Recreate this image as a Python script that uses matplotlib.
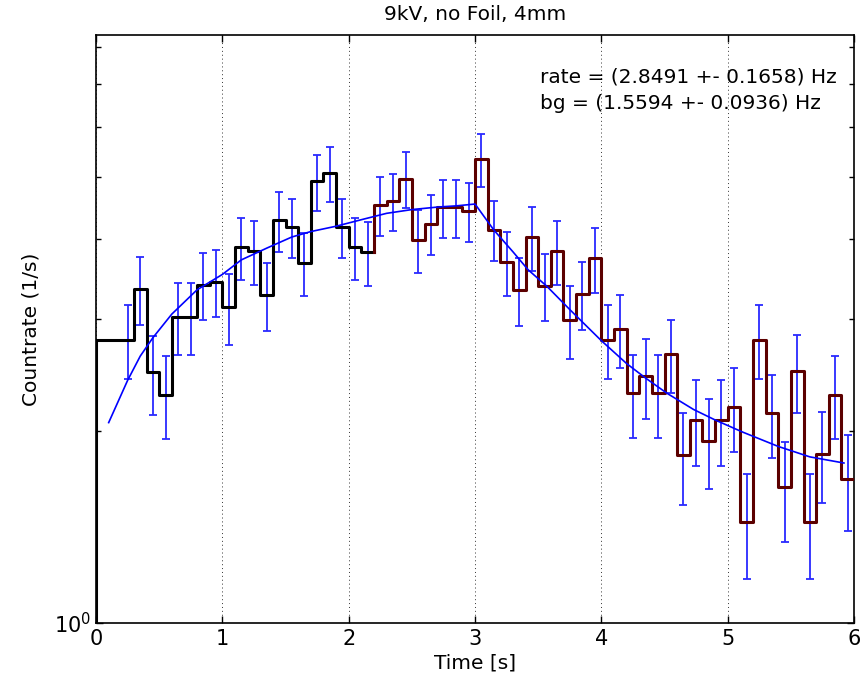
import numpy as np
import matplotlib
matplotlib.use('Agg')
import matplotlib.pyplot as plt
from matplotlib.ticker import LogLocator, NullFormatter

# count rate per 0.1 s bin, 0 .. 6 s
rates = [2.78, 2.78, 2.78, 3.34, 2.47, 2.28, 3.02, 3.02, 3.39, 3.43,
         3.13, 3.88, 3.83, 3.27, 4.28, 4.18, 3.67, 4.93, 5.08, 4.18,
         3.88, 3.82, 4.52, 4.59, 4.97, 3.99, 4.23, 4.49, 4.49, 4.43,
         5.34, 4.14, 3.68, 3.33, 4.03, 3.38, 3.83, 2.98, 3.28, 3.73,
         2.78, 2.89, 2.29, 2.44, 2.29, 2.64, 1.83, 2.08, 1.93, 2.08,
         2.18, 1.44, 2.78, 2.13, 1.63, 2.48, 1.44, 1.84, 2.28, 1.68]

# errors, first two bins have none
errs = [np.nan, np.nan, 0.37, 0.41, 0.35, 0.34, 0.39, 0.39, 0.41, 0.41,
        0.40, 0.43, 0.44, 0.40, 0.46, 0.45, 0.42, 0.50, 0.50, 0.45,
        0.43, 0.44, 0.48, 0.47, 0.50, 0.45, 0.46, 0.47, 0.47, 0.47,
        0.51, 0.45, 0.43, 0.41, 0.46, 0.41, 0.44, 0.39, 0.40, 0.435,
        0.37, 0.38, 0.34, 0.35, 0.34, 0.35, 0.30, 0.32, 0.31, 0.32,
        0.33, 0.27, 0.37, 0.32, 0.29, 0.35, 0.27, 0.30, 0.34, 0.29]

fit_t = [0.1, 0.25, 0.35, 0.45, 0.6, 0.8, 1.0, 1.15, 1.35, 1.55, 1.7, 1.9,
         2.1, 2.3, 2.5, 2.7, 2.85, 3.0, 3.15, 3.3, 3.42, 3.57, 3.75, 3.86,
         4.0, 4.2, 4.35, 4.52, 4.73, 4.9, 5.12, 5.4, 5.65, 5.92]
fit_rate = [2.06, 2.40, 2.62, 2.80, 3.05, 3.33, 3.52, 3.71, 3.87, 4.03, 4.11, 4.19,
            4.29, 4.39, 4.45, 4.49, 4.51, 4.54, 4.13, 3.82, 3.58, 3.37, 3.10, 2.95,
            2.77, 2.55, 2.42, 2.29, 2.16, 2.08, 1.99, 1.89, 1.82, 1.78]

fit_text = ['rate = (2.8491 +- 0.1658) Hz', 'bg = (1.5594 +- 0.0936) Hz']

split = 22  # first bin of the fitted (red) part
y_min, y_max = 1.0, 8.35

edges = np.round(np.arange(0, 6.0001, 0.1), 1)
centers = edges[:-1] + 0.05

fig = plt.figure(figsize=(8.66, 6.84), dpi=100)
ax = fig.add_axes([0.1109, 0.0899, 0.8753, 0.8582])
ax.set_yscale('log')

# error bars
ax.errorbar(centers, rates, yerr=errs, fmt='none', ecolor='#2a2aff',
            elinewidth=1.3, capsize=3, capthick=1.3, zorder=2)

# black part, dropping to the bottom at t=0
xb = np.r_[edges[0], edges[:split + 1]]
yb = np.r_[y_min, rates[:split], rates[split - 1]]
ax.step(xb, yb, where='post', color='k', lw=2.2, zorder=3)

# dark red part
xr = edges[split:]
yr = np.r_[rates[split - 1], rates[split:]]
ax.step(xr, yr, where='pre', color='#5c0000', lw=2.2, zorder=3)

ax.plot(fit_t, fit_rate, color='#0000ff', lw=1.2, zorder=4)

ax.set_xlim(0, 6)
ax.set_ylim(y_min, y_max)
ax.set_xticks(range(7))
ax.yaxis.set_major_locator(LogLocator(base=10))
ax.yaxis.set_minor_locator(LogLocator(base=10, subs=np.arange(2, 10)))
ax.yaxis.set_minor_formatter(NullFormatter())
ax.tick_params(which='both', direction='in', top=True, right=True, labelsize=15)
ax.tick_params(which='major', length=5, width=1)
ax.tick_params(which='minor', length=3.5, width=1)
ax.tick_params(axis='x', pad=5)
for s in ax.spines.values():
    s.set_linewidth(1.2)

ax.xaxis.grid(True, linestyle=(0, (1, 3)), color='#333333', lw=0.7)

ax.set_title('9kV, no Foil, 4mm', fontsize=14.5, pad=11)
ax.set_xlabel('Time [s]', fontsize=14.5, labelpad=3)
ax.set_ylabel('Countrate (1/s)', fontsize=14.5, labelpad=10)

ax.text(3.515, 7.18, fit_text[0], fontsize=14.5, va='center')
ax.text(3.515, 6.54, fit_text[1], fontsize=14.5, va='center')

fig.savefig('out.png', dpi=100)
